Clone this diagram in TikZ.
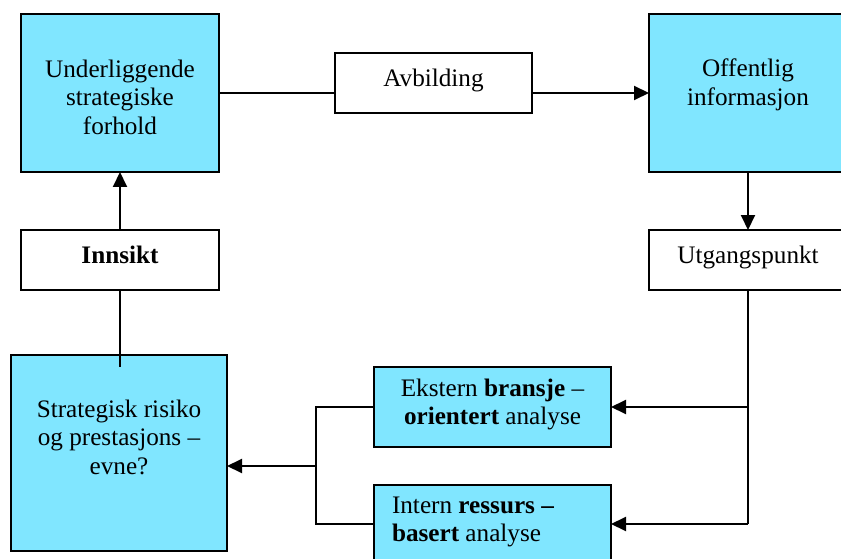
\documentclass[tikz,border=0pt]{standalone}
\usepackage{fontspec}
\setmainfont{Liberation Serif}
\usetikzlibrary{arrows.meta}
\definecolor{boxcyan}{HTML}{80E6FF}
\begin{document}
\begin{tikzpicture}[x=1pt,y=-1pt,
  every node/.style={inner sep=0pt, outer sep=0pt},
  frame/.style={draw=black, line width=2pt, rectangle, anchor=north west},
  filled/.style={frame, fill=boxcyan},
  plain/.style={frame, fill=white},
  txt/.style={font=\fontsize{25.2}{28.4}\selectfont, align=center, anchor=north,
    execute at begin node={\rule{0pt}{20pt}}},
  conn/.style={line width=2pt},
  arr/.style={conn, -{Triangle[length=15pt,width=14pt]}}]
\useasboundingbox (0,0) rectangle (841,559);

% boxes
\node[filled, minimum width=198pt, minimum height=158pt] (under) at (21,14) {};
\node[plain,  minimum width=198pt, minimum height=60pt]  (innsikt) at (21,230) {};
\node[plain,  minimum width=197pt, minimum height=60pt]  (avb) at (335,53) {};
\node[filled, minimum width=198pt, minimum height=158pt] (off) at (649,14) {};
\node[plain,  minimum width=198pt, minimum height=60pt]  (utg) at (649,230) {};
\node[filled, minimum width=216pt, minimum height=196pt] (strat) at (11,355) {};
\node[filled, minimum width=237pt, minimum height=80pt]  (ekst) at (374,367) {};
\node[filled, minimum width=237pt, minimum height=78pt]  (intern) at (374,485) {};

% labels
\node[txt] (under-t) at ([yshift=-46pt]under.north) {Underliggende\\strategiske\\forhold};
\node[txt] (innsikt-t) at ([yshift=-13pt]innsikt.north) {\textbf{Innsikt}};
\node[txt] (avb-t) at ([yshift=-14pt]avb.north) {Avbilding};
\node[txt] (off-t) at ([yshift=-45pt]off.north) {Offentlig\\informasjon};
\node[txt] (utg-t) at ([yshift=-13pt]utg.north) {Utgangspunkt};
\node[txt] (strat-t) at ([yshift=-45pt]strat.north) {Strategisk risiko\\og prestasjons --\\evne?};
\node[txt] (ekst-t) at ([yshift=-12pt]ekst.north) {Ekstern \textbf{bransje} --\\\textbf{orientert} analyse};
\node[txt, anchor=north west, align=left] (intern-t) at (392,497) {Intern \textbf{ressurs --}\\\textbf{basert} analyse};

% junction points
\coordinate (stub) at (innsikt.south |- 0,367);
\coordinate (split) at (utg.south |- ekst.east);
\coordinate (corner) at (utg.south |- intern.east);
\coordinate (join) at (316,466);

% connectors
\draw[conn] (under.east) -- (under.east -| avb.west);
\draw[arr] (under.east -| avb.east) -- (off.west);
\draw[arr] (off.south) -- (utg.north);
\draw[conn] (utg.south) -- (corner);
\draw[arr] (corner) -- (intern.east);
\draw[arr] (split) -- (ekst.east);
\draw[conn] (ekst.west) -- (join |- ekst.west) -- (join |- intern.west) -- (intern.west);
\draw[arr] (join) -- (join -| strat.east);
\draw[arr] (innsikt.north) -- (under.south);
\draw[conn] (innsikt.south) -- (stub);
\end{tikzpicture}
\end{document}
